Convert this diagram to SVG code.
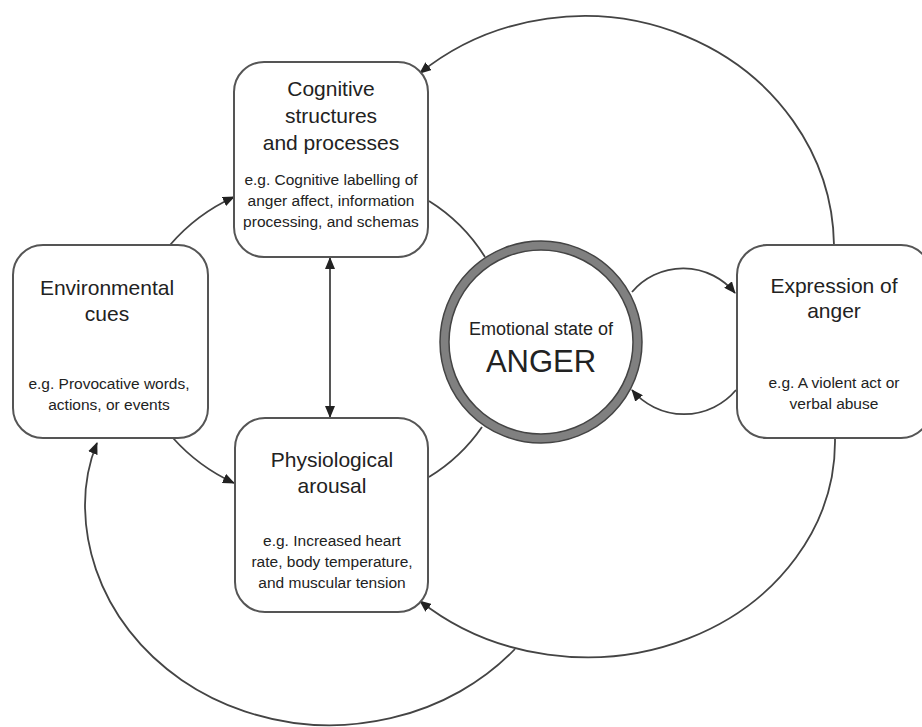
<svg xmlns="http://www.w3.org/2000/svg" width="922" height="727" viewBox="0 0 922 727">
<defs>
<style>
.box{fill:#fff;stroke:#555;stroke-width:2}
.con{fill:none;stroke:#444;stroke-width:1.8}
.t{font-family:"Liberation Sans",Arial,sans-serif;fill:#222;text-anchor:middle}
.h{font-size:21px}
.s{font-size:15.5px}
</style>
<marker id="ah" viewBox="0 0 12 10" refX="11" refY="5" markerWidth="12" markerHeight="10" markerUnits="userSpaceOnUse" orient="auto-start-reverse">
<path d="M0,0 L12,5 L0,10 Z" fill="#222"/>
</marker>
</defs>
<rect width="922" height="727" fill="#fff"/>
<g id="connectors">
<path class="con" d="M 170 245 A 185 185 0 0 1 234 197" marker-end="url(#ah)"/>
<path class="con" d="M 173 438 A 185 185 0 0 0 234 483" marker-end="url(#ah)"/>
<path class="con" d="M 330 258 L 330 417" marker-start="url(#ah)" marker-end="url(#ah)"/>
<path class="con" d="M 429 201 A 175 175 0 0 1 485 257"/>
<path class="con" d="M 482 427 A 175 175 0 0 1 429 477"/>
<path class="con" d="M 632 292 A 67 67 0 0 1 735 293" marker-end="url(#ah)"/>
<path class="con" d="M 736 390 A 68 68 0 0 1 632 390" marker-end="url(#ah)"/>
<path class="con" d="M 834 245 A 250 232 0 0 0 420 73" marker-end="url(#ah)"/>
<path class="con" d="M 835 439 A 248 216 0 0 1 420 601" marker-end="url(#ah)"/>
<path class="con" d="M 515 649 A 245 221 0 0 1 85 505 C 85 482, 90 460, 97 443" marker-end="url(#ah)"/>
</g>
<g id="cognitive">
<rect class="box" x="234" y="62" width="194" height="195" rx="30"/>
<text class="t h" x="331" y="96">Cognitive</text>
<text class="t h" x="331" y="123">structures</text>
<text class="t h" x="331" y="150">and processes</text>
<text class="t s" x="331" y="185">e.g. Cognitive labelling of</text>
<text class="t s" x="331" y="206">anger affect, information</text>
<text class="t s" x="331" y="227">processing, and schemas</text>
</g>
<g id="environmental">
<rect class="box" x="13" y="245" width="195" height="193" rx="30"/>
<text class="t h" x="107" y="295">Environmental</text>
<text class="t h" x="107" y="321">cues</text>
<text class="t s" x="109" y="389">e.g. Provocative words,</text>
<text class="t s" x="109" y="410">actions, or events</text>
</g>
<g id="physiological">
<rect class="box" x="235" y="418" width="193" height="194" rx="30"/>
<text class="t h" x="332" y="467">Physiological</text>
<text class="t h" x="332" y="493">arousal</text>
<text class="t s" x="332" y="546">e.g. Increased heart</text>
<text class="t s" x="332" y="567">rate, body temperature,</text>
<text class="t s" x="332" y="588">and muscular tension</text>
</g>
<g id="anger">
<circle cx="541" cy="342" r="96.5" fill="#fff" stroke="#808080" stroke-width="9"/>
<circle cx="541" cy="342" r="101" fill="none" stroke="#444" stroke-width="1.5"/>
<circle cx="541" cy="342" r="92" fill="none" stroke="#444" stroke-width="1.5"/>
<text class="t" x="541" y="335" font-size="18">Emotional state of</text>
<text class="t" x="541" y="372" font-size="31">ANGER</text>
</g>
<g id="expression">
<rect class="box" x="737" y="245" width="194" height="193" rx="30"/>
<text class="t h" x="834" y="293">Expression of</text>
<text class="t h" x="834" y="318">anger</text>
<text class="t s" x="834" y="388">e.g. A violent act or</text>
<text class="t s" x="834" y="409">verbal abuse</text>
</g>
</svg>
